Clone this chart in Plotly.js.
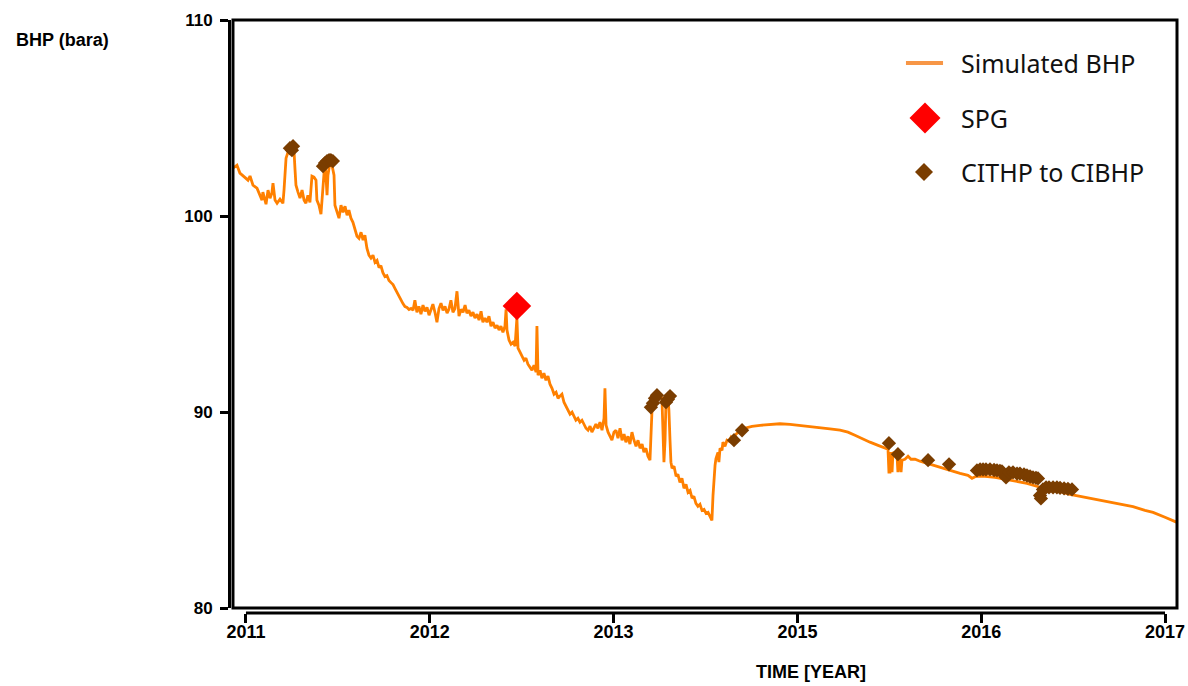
<!DOCTYPE html>
<html>
<head>
<meta charset="utf-8">
<script src="https://cdn.plot.ly/plotly-3.0.1.min.js"></script>
<style>
  html, body { margin: 0; padding: 0; background: #ffffff; }
  #chart { width: 1188px; height: 686px; }
</style>
</head>
<body>
<div id="chart"></div>
<script>
// Simulated bottom-hole pressure (bara) against time (decimal axis years)
const simYear = [
  2010.929, 2010.951, 2010.967, 2010.995, 2011.011, 2011.022, 2011.038, 2011.060, 2011.076, 2011.087,
  2011.092, 2011.109, 2011.120, 2011.131, 2011.141, 2011.147, 2011.158, 2011.169, 2011.185, 2011.201,
  2011.207, 2011.212, 2011.218, 2011.229, 2011.239, 2011.250, 2011.261, 2011.267, 2011.272, 2011.283,
  2011.294, 2011.305, 2011.316, 2011.326, 2011.337, 2011.348, 2011.354, 2011.359, 2011.370, 2011.381,
  2011.386, 2011.397, 2011.408, 2011.413, 2011.419, 2011.430, 2011.435, 2011.441, 2011.446, 2011.457,
  2011.468, 2011.479, 2011.484, 2011.495, 2011.506, 2011.517, 2011.528, 2011.539, 2011.550, 2011.560,
  2011.571, 2011.582, 2011.593, 2011.604, 2011.615, 2011.626, 2011.637, 2011.647, 2011.658, 2011.669,
  2011.680, 2011.691, 2011.702, 2011.713, 2011.724, 2011.734, 2011.745, 2011.756, 2011.767, 2011.778,
  2011.789, 2011.800, 2011.811, 2011.822, 2011.832, 2011.843, 2011.854, 2011.865, 2011.876, 2011.887,
  2011.898, 2011.909, 2011.919, 2011.930, 2011.941, 2011.952, 2011.963, 2011.974, 2011.985, 2011.996,
  2012.007, 2012.017, 2012.028, 2012.039, 2012.050, 2012.061, 2012.072, 2012.083, 2012.094, 2012.104,
  2012.115, 2012.126, 2012.137, 2012.148, 2012.159, 2012.170, 2012.181, 2012.192, 2012.202, 2012.213,
  2012.224, 2012.235, 2012.246, 2012.257, 2012.268, 2012.279, 2012.289, 2012.300, 2012.311, 2012.322,
  2012.333, 2012.344, 2012.355, 2012.366, 2012.377, 2012.387, 2012.398, 2012.409, 2012.415, 2012.420,
  2012.431, 2012.442, 2012.453, 2012.464, 2012.474, 2012.480, 2012.491, 2012.502, 2012.513, 2012.523,
  2012.534, 2012.545, 2012.556, 2012.567, 2012.578, 2012.583, 2012.589, 2012.600, 2012.610, 2012.621,
  2012.632, 2012.643, 2012.654, 2012.665, 2012.676, 2012.687, 2012.698, 2012.708, 2012.719, 2012.730,
  2012.741, 2012.752, 2012.763, 2012.774, 2012.785, 2012.795, 2012.806, 2012.817, 2012.828, 2012.839,
  2012.850, 2012.861, 2012.872, 2012.882, 2012.893, 2012.904, 2012.915, 2012.926, 2012.937, 2012.948,
  2012.953, 2012.959, 2012.970, 2012.980, 2012.991, 2013.002, 2013.013, 2013.024, 2013.035, 2013.046,
  2013.057, 2013.067, 2013.078, 2013.089, 2013.100, 2013.111, 2013.122, 2013.133, 2013.144, 2013.155,
  2013.165, 2013.176, 2013.187, 2013.198, 2013.203, 2013.209, 2013.220, 2013.231, 2013.242, 2013.252,
  2013.263, 2013.269, 2013.274, 2013.280, 2013.285, 2013.296, 2013.301, 2013.307, 2013.312, 2013.318,
  2013.329, 2013.340, 2013.350, 2013.361, 2013.372, 2013.383, 2013.394, 2013.405, 2013.416, 2013.427,
  2013.437, 2013.448, 2013.459, 2013.470, 2013.481, 2013.492, 2013.503, 2013.514, 2013.524, 2013.535,
  2013.541, 2013.546, 2013.552, 2013.557, 2013.568, 2013.573, 2013.579, 2013.590, 2013.595, 2013.606,
  2013.617, 2013.628, 2013.639, 2013.650, 2013.661, 2013.671, 2013.682, 2013.693, 2013.709, 2013.731,
  2013.753, 2013.797, 2013.851, 2013.905, 2013.960, 2014.014, 2014.069, 2014.123, 2014.177, 2014.232,
  2014.275, 2014.313, 2014.351, 2014.395, 2014.439, 2014.482, 2014.493, 2014.498, 2014.504, 2014.509,
  2014.515, 2014.520, 2014.531, 2014.542, 2014.547, 2014.553, 2014.558, 2014.564, 2014.569, 2014.585,
  2014.602, 2014.618, 2014.640, 2014.667, 2014.721, 2014.776, 2014.830, 2014.885, 2014.928, 2014.950,
  2014.972, 2015.021, 2015.075, 2015.130, 2015.184, 2015.249, 2015.320, 2015.402, 2015.483, 2015.565,
  2015.646, 2015.728, 2015.826, 2015.891, 2015.935, 2016.000, 2016.065
];
const simBhp = [
  102.44, 102.59, 102.19, 101.93, 101.83, 102.04, 101.57, 101.42, 101.06, 100.81,
  101.22, 100.60, 101.32, 100.91, 101.16, 101.67, 100.81, 100.65, 100.86, 100.65,
  101.32, 102.30, 102.95, 103.26, 103.46, 103.57, 103.36, 102.34, 101.57, 101.22,
  100.91, 101.32, 100.81, 100.65, 101.06, 100.70, 101.83, 102.03, 101.98, 101.83,
  100.81, 100.55, 100.09, 100.81, 101.83, 102.85, 102.08, 101.06, 102.08, 102.75,
  102.59, 102.08, 100.55, 100.19, 99.89, 100.55, 100.19, 100.50, 100.04, 100.30,
  99.89, 99.68, 99.37, 98.97, 98.86, 99.17, 98.77, 99.02, 98.36, 98.00,
  97.85, 98.00, 97.63, 97.73, 97.37, 97.47, 97.11, 96.91, 96.96, 96.71,
  96.60, 96.50, 96.30, 96.09, 95.89, 95.74, 95.53, 95.38, 95.33, 95.23,
  95.28, 95.19, 95.70, 95.09, 95.39, 94.99, 95.45, 95.14, 95.34, 94.94,
  95.28, 95.50, 95.09, 94.58, 95.28, 95.55, 95.19, 95.39, 95.04, 95.24,
  95.70, 95.09, 95.28, 96.16, 94.89, 95.24, 95.09, 95.45, 95.04, 95.19,
  94.89, 95.09, 94.79, 94.99, 94.69, 95.14, 94.58, 94.79, 94.58, 94.89,
  94.38, 94.58, 94.28, 94.43, 94.18, 94.38, 94.07, 94.38, 95.24, 94.18,
  93.67, 93.46, 93.56, 93.36, 94.79, 93.26, 93.05, 92.85, 92.64, 92.75,
  92.44, 92.29, 92.13, 92.39, 92.03, 94.38, 91.88, 92.13, 91.72, 91.98,
  91.62, 91.83, 91.42, 91.21, 90.91, 91.01, 90.70, 90.81, 90.91, 90.50,
  90.30, 90.09, 89.89, 89.99, 89.79, 89.58, 89.68, 89.48, 89.58, 89.38,
  89.17, 89.07, 89.28, 88.97, 89.17, 89.38, 89.17, 89.48, 89.07, 89.68,
  91.21, 89.33, 88.97, 88.76, 88.56, 88.97, 89.07, 88.66, 89.17, 88.56,
  88.87, 88.46, 88.76, 88.36, 88.97, 88.56, 88.25, 88.56, 88.15, 88.36,
  87.95, 88.15, 87.74, 87.54, 88.56, 90.09, 90.50, 90.76, 90.86, 90.81,
  90.71, 89.07, 87.44, 88.56, 90.60, 90.71, 90.09, 88.56, 87.44, 87.13,
  87.23, 86.72, 86.82, 86.41, 86.62, 86.11, 86.31, 85.90, 86.00, 85.60,
  85.70, 85.34, 85.19, 85.29, 84.98, 85.03, 84.83, 84.88, 84.68, 84.47,
  85.75, 86.77, 87.28, 87.63, 87.94, 87.44, 88.15, 88.05, 88.46, 88.25,
  88.56, 88.51, 88.71, 88.56, 88.81, 88.91, 88.97, 89.12, 89.17, 89.22,
  89.27, 89.32, 89.37, 89.40, 89.37, 89.32, 89.27, 89.22, 89.14, 89.07,
  88.97, 88.81, 88.63, 88.46, 88.30, 88.15, 88.10, 86.93, 86.93, 87.95,
  86.93, 87.95, 87.84, 87.79, 86.93, 87.74, 87.64, 86.93, 87.54, 87.59,
  87.74, 87.59, 87.59, 87.49, 87.33, 87.18, 87.03, 86.87, 86.77, 86.62,
  86.72, 86.72, 86.67, 86.57, 86.46, 86.36, 86.16, 86.01, 85.80, 85.65,
  85.48, 85.33, 85.17, 84.98, 84.88, 84.63, 84.37
];

// Static pressure gradient survey
const spgYear = [2012.474];
const spgBhp = [95.41];

// Wellhead pressure readings converted to bottom-hole pressure
const citYear = [
  2011.239, 2011.250, 2011.256,
  2011.419, 2011.430, 2011.441, 2011.452, 2011.462, 2011.473,
  2013.203, 2013.214, 2013.225, 2013.236, 2013.285, 2013.296, 2013.307,
  2013.655, 2013.699,
  2014.498, 2014.547, 2014.711, 2014.825,
  2014.977, 2014.994, 2015.010, 2015.026, 2015.048, 2015.070, 2015.086, 2015.102, 2015.113, 2015.135,
  2015.151, 2015.173, 2015.195, 2015.211, 2015.233, 2015.249, 2015.266, 2015.282, 2015.298, 2015.309,
  2015.320, 2015.325, 2015.336, 2015.353, 2015.369, 2015.391, 2015.412, 2015.429, 2015.451, 2015.472,
  2015.494
];
const citBhp = [
  103.46, 103.36, 103.56,
  102.54, 102.70, 102.80, 102.85, 102.85, 102.80,
  90.24, 90.45, 90.70, 90.86, 90.50, 90.65, 90.81,
  88.56, 89.07,
  88.41, 87.85, 87.54, 87.33,
  87.02, 87.07, 87.07, 87.07, 87.07, 87.04, 87.02, 87.00, 86.97, 86.66,
  86.92, 86.92, 86.86, 86.86, 86.81, 86.76, 86.71, 86.66, 86.64, 86.61,
  85.74, 85.59, 86.05, 86.15, 86.15, 86.15, 86.15, 86.13, 86.10, 86.08,
  86.05
];

// Axis ticks and their printed labels
const tickYears = [2011, 2012, 2013, 2014, 2015, 2016];
const tickLabels = ['2011', '2012', '2013', '2015', '2016', '2017'];
const bhpTicks = [80, 90, 100, 110];

const seriesNames = ['Simulated BHP', 'SPG', 'CITHP to CIBHP'];
const simColor = '#ff8000';
const simLegendColor = '#f79646';
const spgColor = '#ff0000';
const citColor = '#7a3d00';

const boldFont = { family: 'Liberation Sans, Arial, sans-serif', color: '#000000', weight: 700 };
const legendFont = { family: 'Noto Sans, Open Sans, sans-serif', size: 25, color: '#111111' };

const traces = [
  {
    type: 'scatter', mode: 'lines', name: seriesNames[0],
    x: simYear, y: simBhp,
    line: { color: simColor, width: 2.8 },
    hoverinfo: 'skip'
  },
  {
    type: 'scatter', mode: 'markers', name: seriesNames[2],
    x: citYear, y: citBhp,
    marker: { symbol: 'diamond', size: 11, color: citColor, line: { width: 0 } },
    hoverinfo: 'skip'
  },
  {
    type: 'scatter', mode: 'markers', name: seriesNames[1],
    x: spgYear, y: spgBhp,
    marker: { symbol: 'diamond', size: 22, color: spgColor, line: { width: 0 } },
    hoverinfo: 'skip'
  }
];

// Diamond outline in paper units, given a centre and half-size in pixels
const PAPER_W = 948, PAPER_H = 593;
function diamondPath(cx, cy, halfPx) {
  const hx = halfPx / PAPER_W, hy = halfPx / PAPER_H;
  return 'M' + (cx - hx) + ',' + cy + ' L' + cx + ',' + (cy + hy) +
         ' L' + (cx + hx) + ',' + cy + ' L' + cx + ',' + (cy - hy) + ' Z';
}

const legendTextX = 0.770;
const legendRows = [0.9275, 0.8347, 0.7437];

const shapes = [
  // plot frame
  { type: 'rect', xref: 'x domain', yref: 'y domain', x0: 0, x1: 1, y0: 0, y1: 1,
    line: { color: '#000000', width: 3 }, fillcolor: 'rgba(0,0,0,0)', layer: 'above' },
  // offset time axis line, first to last tick
  { type: 'line', xref: 'x', yref: 'paper', x0: tickYears[0], x1: tickYears[tickYears.length - 1],
    y0: 0, y1: 0, line: { color: '#000000', width: 3 } },
  // legend keys
  { type: 'line', xref: 'paper', yref: 'paper', x0: 0.7141, x1: 0.7532, y0: legendRows[0], y1: legendRows[0],
    line: { color: simLegendColor, width: 4 } },
  { type: 'path', xref: 'paper', yref: 'paper', path: diamondPath(0.7342, legendRows[1], 15.5),
    fillcolor: spgColor, line: { width: 0 } },
  { type: 'path', xref: 'paper', yref: 'paper', path: diamondPath(0.7331, legendRows[2], 9),
    fillcolor: citColor, line: { width: 0 } }
];

const annotations = [
  { text: 'BHP (bara)', xref: 'paper', yref: 'paper', x: -0.2268, y: 0.9663,
    xanchor: 'left', yanchor: 'middle', showarrow: false, font: Object.assign({ size: 18 }, boldFont) },
  { text: 'TIME [YEAR]', xref: 'paper', yref: 'paper', x: 0.6139, y: -0.0995,
    xanchor: 'center', yanchor: 'middle', showarrow: false, font: Object.assign({ size: 18 }, boldFont) }
].concat(seriesNames.map((name, i) => ({
  text: name, xref: 'paper', yref: 'paper', x: legendTextX, y: legendRows[i],
  xanchor: 'left', yanchor: 'middle', showarrow: false, font: legendFont
})));

const layout = {
  width: 1188, height: 686,
  margin: { l: 229, r: 11, t: 20, b: 73, pad: 0 },
  paper_bgcolor: '#ffffff', plot_bgcolor: '#ffffff',
  showlegend: false,
  xaxis: {
    domain: [0.0042, 1], range: [2010.9293, 2016.0653],
    anchor: 'free', position: 0,
    tickmode: 'array', tickvals: tickYears, ticktext: tickLabels,
    ticks: 'outside', ticklen: 9, tickwidth: 3, tickcolor: '#000000',
    ticklabelstandoff: -7,
    showline: false, showgrid: false, zeroline: false,
    tickfont: Object.assign({ size: 18 }, boldFont)
  },
  yaxis: {
    domain: [0.00843, 1], range: [80, 110],
    anchor: 'free', position: 0,
    tickmode: 'array', tickvals: bhpTicks,
    ticks: 'outside', ticklen: 8, tickwidth: 3, tickcolor: '#000000',
    ticklabelstandoff: 4,
    showline: true, linewidth: 3, linecolor: '#000000',
    showgrid: false, zeroline: false,
    tickfont: Object.assign({ size: 17 }, boldFont)
  },
  shapes: shapes,
  annotations: annotations
};

Plotly.newPlot('chart', traces, layout, { displayModeBar: false, staticPlot: true });
</script>
</body>
</html>
